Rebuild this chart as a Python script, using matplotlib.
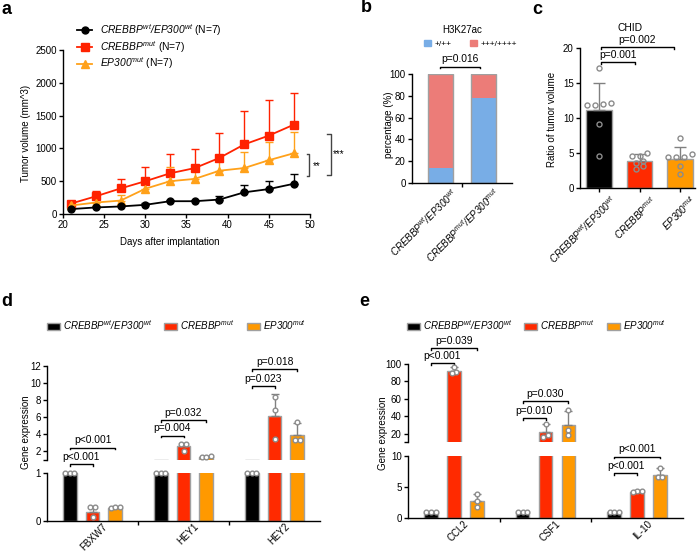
import numpy as np
import matplotlib.pyplot as plt
from matplotlib.patches import Patch
from matplotlib.lines import Line2D
from matplotlib.transforms import ScaledTranslation

plt.rcParams['font.family'] = ['Liberation Sans', 'DejaVu Sans']
# в mathtext всё курсивом (и цифры тоже) - для названий генов
plt.rcParams['mathtext.fontset'] = 'custom'
plt.rcParams['mathtext.rm'] = 'Liberation Sans:italic'
plt.rcParams['mathtext.it'] = 'Liberation Sans:italic'
plt.rcParams['font.size'] = 7
plt.rcParams['axes.linewidth'] = 1

# подписи групп
WT = r'$CREBBP^{wt}/EP300^{wt}$'
CMUT = r'$CREBBP^{mut}$'
EMUT = r'$EP300^{mut}$'
BOTHMUT = r'$CREBBP^{mut}/EP300^{mut}$'

# a: рост опухоли
days = [21, 24, 27, 30, 33, 36, 39, 42, 45, 48]
vol_wt = [75, 100, 115, 140, 195, 195, 220, 330, 380, 460]
vol_wt_sd = [15, 20, 20, 25, 20, 20, 60, 110, 125, 145]
vol_cmut = [160, 270, 390, 500, 620, 700, 855, 1060, 1195, 1360]
vol_cmut_sd = [30, 75, 140, 220, 295, 290, 375, 510, 540, 490]
vol_emut = [130, 175, 205, 385, 500, 535, 660, 700, 820, 925]
vol_emut_sd = [25, 60, 90, 110, 220, 130, 150, 250, 285, 330]

# b: H3K27ac
h3_groups = [WT, BOTHMUT]
h3_low = [14, 78]
h3_high = [86, 22]

# c: CHID
chid_groups = [WT, CMUT, EMUT]
chid_mean = [11.2, 3.9, 4.2]
chid_sd = [3.8, 0.9, 1.7]
chid_pts = [[17.2, 12.0, 11.8, 11.9, 12.2, 9.2, 4.6],
            [4.6, 4.6, 5.0, 3.6, 3.8, 2.7, 3.1],
            [7.1, 4.5, 4.4, 4.5, 4.9, 3.2, 2.0]]

# d: экспрессия генов
genes_d = ['FBXW7', 'HEY1', 'HEY2']
d_wt = [1, 1, 1]
d_cmut = [0.19, 2.6, 6.1]
d_cmut_sd = [0.13, 0.35, 2.6]
d_emut = [0.26, 1.4, 3.9]
d_emut_sd = [0.03, 0.1, 1.4]
d_wt_pts = [[1, 1, 1], [1, 1, 1], [1, 1, 1]]
d_cmut_pts = [[0.28, 0.28, 0.08], [2.85, 2.85, 2.1], [8.4, 6.8, 3.4]]
d_emut_pts = [[0.27, 0.28, 0.29], [1.35, 1.5, 1.4], [5.4, 3.3, 3.3]]
d_pvals = [('p<0.001', 'p<0.001'), ('p=0.004', 'p=0.032'), ('p=0.023', 'p=0.018')]
d_pv_y = [(0.5, 2.4), (3.8, 5.65), (9.6, 11.6)]

# e: экспрессия цитокинов
genes_e = ['CCL2', 'CSF1', 'IL-10']
e_wt = [1, 1, 1]
e_cmut = [92, 21.7, 4.25]
e_cmut_sd = [4.5, 9.5, 0.25]
e_emut = [2.8, 30, 6.9]
e_emut_sd = [1.1, 16.5, 1.1]
e_wt_pts = [[1, 1, 1], [1, 1, 1], [1, 1, 1]]
e_cmut_pts = [[96, 91, 90], [31, 18.5, 16], [4.3, 4.2, 4.3]]
e_emut_pts = [[3.9, 2.8, 1.8], [47, 24.5, 18.5], [8.0, 6.6, 6.6]]
e_pvals = [('p<0.001', 'p=0.039'), ('p=0.010', 'p=0.030'), ('p<0.001', 'p<0.001')]
e_pv_y = [(101, 118), (38, 57.5), (7.2, 9.8)]

BLACK, RED, ORANGE = '#000000', '#ff2a00', '#ff9900'
BLUE, PINK = '#78ade6', '#ec7c78'
EDGE, ERR = '#a0a0a0', '#808080'

W, H = 699, 551
fig = plt.figure(figsize=(W / 100, H / 100), dpi=100)


def px_axes(l, t, r, b):
    return fig.add_axes([l / W, 1 - b / H, (r - l) / W, (b - t) / H])


def style(ax):
    ax.spines[['top', 'right']].set_visible(False)
    ax.tick_params(direction='out', length=3, width=1, labelsize=7, pad=1.5)


def px_per_unit(ax):
    y0, y1 = ax.get_ylim()
    return ax.get_position().height * H / (y1 - y0)


def bracket(ax, x1, x2, y, txt, fs=7.4):
    h = px_per_unit(ax)
    d = 1.5 / h
    ax.plot([x1, x1, x2, x2], [y - d, y, y, y - d], color='k', lw=1, clip_on=False)
    ax.text((x1 + x2) / 2, y + 2.5 / h, txt, ha='center', va='bottom', fontsize=fs, clip_on=False)


def swarm(vals, tol, step):
    vals = np.asarray(vals, dtype=float)
    offs = np.zeros(len(vals))
    clusters = []
    for i in np.argsort(vals, kind='stable'):
        if clusters and vals[i] - vals[clusters[-1][-1]] < tol:
            clusters[-1].append(i)
        else:
            clusters.append([i])
    for c in clusters:
        for k, i in enumerate(c):
            offs[i] = (k - (len(c) - 1) / 2) * step
    return offs


def rot_labels(ax, dx, dy=0):
    for lbl in ax.get_xticklabels(which='both'):
        lbl.set_rotation(45)
        lbl.set_ha('right')
        lbl.set_va('top')
        lbl.set_rotation_mode('anchor')
        lbl.set_transform(lbl.get_transform() + ScaledTranslation(dx / 100, dy / 100, fig.dpi_scale_trans))


# ---------- a ----------
ax = px_axes(63, 50, 310, 214)
style(ax)
series_a = [(vol_cmut, vol_cmut_sd, '#ff2200', 's'),
            (vol_emut, vol_emut_sd, '#ffa11a', '^'),
            (vol_wt, vol_wt_sd, BLACK, 'o')]
for y, sd, c, m in series_a:
    ax.errorbar(days, y, yerr=[np.zeros(len(sd)), sd], fmt='none', ecolor=c,
                elinewidth=1, capsize=3, capthick=1, zorder=2)
    ax.plot(days, y, color=c, marker=m, ms=5.5 if m != 'o' else 5, lw=1.3, zorder=3)
ax.set_xlim(20, 50)
ax.set_ylim(0, 2500)
ax.set_xticks(range(20, 51, 5))
ax.set_yticks(range(0, 2501, 500))
# значимость
ax.plot([49.6, 49.9, 49.9, 49.6], [580, 580, 915, 915], color='#444444', lw=1, clip_on=False)
ax.text(50.3, 735, '**', fontsize=7, va='center', ha='left')
ax.plot([52.1, 52.5, 52.5, 52.1], [595, 595, 1220, 1220], color='#444444', lw=1, clip_on=False)
ax.text(52.8, 915, '***', fontsize=7, va='center', ha='left')
handles = [Line2D([], [], color=BLACK, marker='o', ms=5, lw=1.3),
           Line2D([], [], color='#ff2200', marker='s', ms=5.5, lw=1.3),
           Line2D([], [], color='#ffa11a', marker='^', ms=5.5, lw=1.3)]
ax.legend(handles, [WT + ' (N=7)', CMUT + ' (N=7)', EMUT + ' (N=7)'], loc='upper left',
          bbox_to_anchor=(77 / W, 1 - 22 / H), bbox_transform=fig.transFigure, frameon=False,
          fontsize=7.4, handlelength=1.5, handletextpad=0.7, labelspacing=0.1,
          borderpad=0, borderaxespad=0)
fig.text(170 / W, 1 - 242 / H, 'Days after implantation', ha='center', va='center', fontsize=7)
fig.text(26 / W, 1 - 133 / H, 'Tumor volume (mm^3)', rotation=90, ha='center', va='center', fontsize=7)

# ---------- b ----------
ax = px_axes(412, 74, 512, 183)
style(ax)
xb = np.arange(len(h3_groups))
ax.bar(xb, h3_low, width=0.58, color=BLUE, lw=0)
ax.bar(xb, h3_high, bottom=h3_low, width=0.58, color=PINK, lw=0)
ax.bar(xb, np.add(h3_low, h3_high), width=0.58, fill=False, edgecolor=EDGE, lw=1)
ax.set_xlim(-0.65, 1.67)
ax.set_ylim(0, 100)
ax.set_yticks(range(0, 101, 20))
ax.set_xticks([0.5])
ax.set_xticklabels([''])
ax.set_xticks(xb, h3_groups, minor=True)
ax.tick_params(axis='x', which='minor', length=0, pad=2, labelsize=7)
rot_labels(ax, 10)
bracket(ax, 0, 0.93, 106.5, 'p=0.016')
fig.text(462 / W, 1 - 30 / H, 'H3K27ac', ha='center', va='center', fontsize=7)
ax.legend([Patch(color=BLUE), Patch(color=PINK)], ['+/++', '+++/++++'], ncol=2,
          loc='center left', bbox_to_anchor=(424 / W, 1 - 44 / H), bbox_transform=fig.transFigure,
          frameon=False, fontsize=6, handlelength=0.8, handleheight=0.8, handletextpad=0.5,
          columnspacing=2.2, borderpad=0, borderaxespad=0)
fig.text(389 / W, 1 - 125 / H, 'percentage (%)', rotation=90, ha='center', va='center', fontsize=7)

# ---------- c ----------
ax = px_axes(580, 48, 695, 188)
style(ax)
xc = np.arange(len(chid_groups))
ax.bar(xc, chid_mean, width=0.64, color=[BLACK, RED, ORANGE], edgecolor=EDGE, lw=1, zorder=2)
ax.errorbar(xc, chid_mean, yerr=[np.zeros(3), chid_sd], fmt='none', ecolor=ERR,
            elinewidth=1, capsize=4, capthick=1, zorder=3)
for i, pts in enumerate(chid_pts):
    ax.plot(i + swarm(pts, 0.45, 0.19), pts, 'o', ms=3.6, mfc='none', mec='#8c8c8c',
            mew=1, zorder=4, clip_on=False)
ax.set_xlim(-0.47, 2.37)
ax.set_ylim(0, 20)
ax.set_yticks(range(0, 21, 5))
ax.set_xticks(xc, chid_groups)
ax.tick_params(axis='x', labelsize=7)
rot_labels(ax, 10, 1)
bracket(ax, 0.05, 0.88, 18.0, 'p=0.001')
bracket(ax, 0.05, 1.85, 20.1, 'p=0.002')
fig.text(630 / W, 1 - 28 / H, 'CHID', ha='center', va='center', fontsize=7.4)
fig.text(552 / W, 1 - 119 / H, 'Ratio of tumor volume', rotation=90, ha='center', va='center', fontsize=7)


# ---------- d, e: разорванная ось ----------
def broken_panel(box_up, box_lo, lo_top, up_lim, up_ticks, lo_ticks, genes, means, sds, pts,
                 pvals, pv_y, tol_lo, tol_up):
    up = px_axes(*box_up)
    lo = px_axes(*box_lo)
    for a in (up, lo):
        style(a)
        a.set_xlim(-0.5, 2.5)
    up.spines['bottom'].set_visible(False)
    up.tick_params(axis='x', which='both', bottom=False, labelbottom=False)
    up.set_ylim(*up_lim)
    up.set_yticks(up_ticks, [''] + [str(t) for t in up_ticks[1:]])
    lo.set_ylim(0, lo_top)
    lo.set_yticks(lo_ticks)
    colors = [BLACK, RED, ORANGE]
    for k in range(3):
        xs = np.arange(3) + (k - 1) * 0.25
        for a in (up, lo):
            a.bar(xs, means[k], width=0.15, color=colors[k], edgecolor=EDGE, lw=1, zorder=2)
        for g in range(3):
            m = means[k][g]
            a = up if m > lo_top else lo
            if sds[k][g] > 0:
                a.errorbar(xs[g], m, yerr=[[0], [sds[k][g]]], fmt='none', ecolor=ERR,
                           elinewidth=1, capsize=3, capthick=1, zorder=3, clip_on=False)
            v = np.asarray(pts[k][g], dtype=float)
            hi = v > lo_top
            for a, sel, tol in ((up, hi, tol_up), (lo, ~hi, tol_lo)):
                if sel.any():
                    a.plot(xs[g] + swarm(v[sel], tol, 0.05), v[sel], 'o', ms=3.4, mfc='white',
                           mec='#8c8c8c', mew=1, zorder=4, clip_on=False)
    lo.set_xticks([0.5, 1.5], ['', ''])
    lo.set_xticks(range(3), genes, minor=True)
    lo.tick_params(axis='x', which='minor', length=0, pad=1.5)
    rot_labels(lo, 10, 1.5)
    for g in range(3):
        for j, (txt, y) in enumerate(zip(pvals[g], pv_y[g])):
            a = lo if y < lo_top and pv_y[g][1] < lo_top else up
            bracket(a, g - 0.25, g + (0 if j == 0 else 0.25), y, txt)
    return up, lo


broken_panel((47, 365.7, 320, 460), (47, 473.3, 320, 520.7), 1, (1, 12),
             [1, 2, 4, 6, 8, 10, 12], [0, 1], genes_d,
             [d_wt, d_cmut, d_emut], [[0, 0, 0], d_cmut_sd, d_emut_sd],
             [d_wt_pts, d_cmut_pts, d_emut_pts], d_pvals, d_pv_y, 0.09, 0.5)
broken_panel((408, 364, 683, 442.4), (408, 455.7, 683, 518.3), 10, (10, 100),
             [10, 20, 40, 60, 80, 100], [0, 5, 10], genes_e,
             [e_wt, e_cmut, e_emut], [[0, 0, 0], e_cmut_sd, e_emut_sd],
             [e_wt_pts, e_cmut_pts, e_emut_pts], e_pvals, e_pv_y, 0.7, 5)

fig.text(26 / W, 1 - 432 / H, 'Gene expression', rotation=90, ha='center', va='center', fontsize=7)
fig.text(383 / W, 1 - 433 / H, 'Gene expression', rotation=90, ha='center', va='center', fontsize=7)

leg_handles = [Patch(fc=c, ec=EDGE, lw=1) for c in (BLACK, RED, ORANGE)]
for x0 in (47, 407):
    fig.legend(leg_handles, [WT, CMUT, EMUT], ncol=3, loc='center left',
               bbox_to_anchor=(x0 / W, 1 - 325 / H), frameon=False, fontsize=7,
               handlelength=1.3, handleheight=0.8, handletextpad=0.3, columnspacing=1.3,
               borderpad=0, borderaxespad=0)

# буквы панелей
for txt, x, y in [('a', 1, 9), ('b', 361, 8), ('c', 532, 9), ('d', 1, 301), ('e', 359, 302)]:
    fig.text(x / W, 1 - y / H, txt, fontsize=13, fontweight='bold', ha='left', va='center')

fig.savefig('out.png', dpi=100)
